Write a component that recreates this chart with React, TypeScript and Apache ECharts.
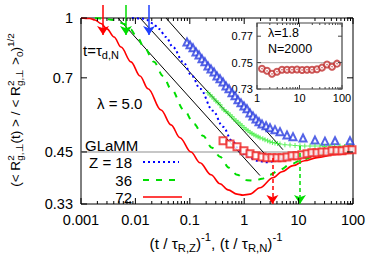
import React, { useEffect, useRef } from 'react';
import * as echarts from 'echarts';

const FONT = '"Liberation Sans", Arial, Helvetica, sans-serif';

// ---------- main panel ----------
const xRange = [0.001, 100];
const yRange = [0.33, 1];
const yTicks = [0.33, 0.45, 0.7, 1];
const glammLevel = 0.45;

const z72Curve: number[][] = [
  [0.001, 1.0], [0.00146, 0.997], [0.00181, 0.988], [0.00233, 0.968], [0.003, 0.937], [0.00405, 0.893],
  [0.00544, 0.841], [0.0083, 0.77], [0.01215, 0.708], [0.0171, 0.656], [0.0296, 0.578], [0.0451, 0.529],
  [0.066, 0.49], [0.105, 0.45], [0.154, 0.422], [0.2453, 0.393], [0.359, 0.3724], [0.504, 0.359],
  [0.738, 0.35], [0.95, 0.348], [1.278, 0.35], [1.95, 0.3637], [3.38, 0.386], [4.95, 0.4], [7.9, 0.4147],
  [12.9, 0.427], [21.8, 0.435], [44.9, 0.4426], [100, 0.4477],
];
const z36Curve: number[][] = [
  [0.00181, 1.0], [0.00265, 0.997], [0.00388, 0.988], [0.00479, 0.9794], [0.00617, 0.965], [0.00796, 0.937],
  [0.0107, 0.893], [0.01439, 0.841], [0.02197, 0.77], [0.0322, 0.708], [0.0451, 0.656], [0.0782, 0.578],
  [0.1195, 0.532], [0.1748, 0.4956], [0.2559, 0.4613], [0.359, 0.4375], [0.5256, 0.4097], [0.738, 0.393],
  [1.125, 0.3803], [1.579, 0.3792], [2.124, 0.3837], [2.98, 0.393], [4.55, 0.405], [6.95, 0.417],
  [10.6, 0.427], [17.6, 0.4361], [30.6, 0.4439], [57.7, 0.4493], [100, 0.4519],
];
const z18Curve: number[][] = [
  [0.00866, 1.0], [0.01322, 0.997], [0.01633, 0.988], [0.02106, 0.968], [0.02715, 0.937], [0.0365, 0.893],
  [0.0491, 0.841], [0.075, 0.77], [0.1098, 0.708], [0.154, 0.656], [0.267, 0.575], [0.4076, 0.523],
  [0.5966, 0.481], [0.838, 0.453], [1.125, 0.4385], [1.719, 0.427], [2.62, 0.4232], [4.55, 0.43],
  [10.6, 0.4372], [33.3, 0.4466], [100, 0.4504],
];
const powerLaw1: number[][] = [[0.00479, 1], [1.95, 0.391]];
const powerLaw2: number[][] = [[0.01216, 1], [3.24, 0.4246]];
const powerLaw3: number[][] = [[0.0365, 1], [5.17, 0.456]];

const z18Sim: number[][] = [
  [0.0888, 0.867], [0.1009, 0.852], [0.1146, 0.837], [0.13, 0.817], [0.1477, 0.802], [0.1676, 0.784],
  [0.19, 0.77], [0.216, 0.751], [0.245, 0.738], [0.279, 0.725], [0.316, 0.708], [0.359, 0.696],
  [0.408, 0.683], [0.463, 0.667], [0.526, 0.656], [0.597, 0.64], [0.678, 0.629], [0.769, 0.614],
  [0.873, 0.603], [0.991, 0.592], [1.125, 0.582], [1.278, 0.568], [1.451, 0.558], [1.648, 0.548],
  [1.871, 0.539], [2.124, 0.532], [2.52, 0.526], [2.98, 0.52], [3.68, 0.514], [4.55, 0.508],
  [6.12, 0.498], [7.89, 0.493], [12.05, 0.489], [20, 0.483], [30.5, 0.48], [46.7, 0.481], [88, 0.481],
];
const z36Sim: number[][] = [
  [0.216, 0.64], [0.236, 0.632], [0.256, 0.625], [0.279, 0.617], [0.303, 0.61], [0.33, 0.603],
  [0.359, 0.596], [0.39, 0.586], [0.426, 0.578], [0.463, 0.573], [0.504, 0.568], [0.55, 0.561],
  [0.597, 0.555], [0.65, 0.548], [0.706, 0.542], [0.77, 0.537], [0.838, 0.532], [0.91, 0.526],
  [0.991, 0.52], [1.08, 0.515], [1.175, 0.511], [1.28, 0.506], [1.39, 0.502], [1.51, 0.499],
  [1.648, 0.496], [1.8, 0.493], [1.95, 0.49], [2.2, 0.487], [2.41, 0.484], [2.7, 0.481],
  [2.98, 0.478], [3.3, 0.476], [3.68, 0.475], [4.1, 0.473], [4.55, 0.472], [5.6, 0.47],
  [6.95, 0.469], [8.6, 0.468], [10.6, 0.467], [13, 0.466], [16.2, 0.466], [20, 0.466],
  [24.7, 0.466], [30, 0.465], [37.8, 0.466], [46, 0.465], [57.7, 0.466], [70, 0.465], [88, 0.466],
];
const z72Sim: number[][] = [
  [0.408, 0.481], [0.548, 0.472], [0.738, 0.464], [0.991, 0.453], [1.278, 0.445], [1.648, 0.44],
  [2.124, 0.437], [2.62, 0.435], [3.24, 0.435], [4.01, 0.435], [4.95, 0.435], [6.12, 0.437],
  [7.57, 0.44], [9.35, 0.44], [11.5, 0.4426], [14.3, 0.445], [17.6, 0.448], [21.8, 0.448],
  [26.9, 0.45], [33.3, 0.45], [41.1, 0.453], [50.8, 0.453], [62.8, 0.453], [77.6, 0.456], [95.9, 0.456],
];

const tauDArrowX = [0.00254, 0.00671, 0.0178];
const tauDArrowY = [1.08, 0.904];
const tauRArrowRed: number[][] = [[3.3, 0.434], [3.3, 0.33]];
const tauRArrowGreen: number[][] = [[10.6, 0.466], [10.6, 0.33]];

// ---------- inset ----------
const insetXRange = [1, 100];
const insetYRange = [0.73, 0.78];
const insetYTicks = [0.73, 0.75, 0.77];
const insetLevel = 0.75;
const insetX = [1.31, 1.72, 2.25, 2.95, 3.87, 5.08, 6.66, 8.74, 11.5, 15.0, 19.7, 25.8, 33.8, 44.4, 58.2, 76.3];
const insetY = [0.7454, 0.7438, 0.7415, 0.7431, 0.7446, 0.7446, 0.7446, 0.7448, 0.7444, 0.7446, 0.7446, 0.745, 0.7462, 0.7485, 0.7469, 0.7492];

const RED = '#ff0000';
const GREEN = '#00dd00';
const BLUE = '#0000ff';

function fmtNum(v: number) {
  return String(parseFloat(Number(v).toPrecision(6)));
}

type Seg = { t?: string; k?: 'n' | 'sub' | 'sup' | 'stack'; sup?: string; sub?: string };

function makeMeasure() {
  const c = document.createElement('canvas').getContext('2d')!;
  return (t: string, s: number) => {
    c.font = `${s}px ${FONT}`;
    return c.measureText(t).width;
  };
}

function txt(t: string, x: number, y: number, s: number, align = 'left', fill = '#000') {
  return {
    type: 'text',
    x,
    y,
    style: {
      text: t,
      font: `${s}px ${FONT}`,
      fontSize: s,
      fontFamily: FONT,
      fill,
      textAlign: align,
      align,
      textVerticalAlign: 'middle',
      verticalAlign: 'middle',
    },
  };
}

function layoutMath(measure: (t: string, s: number) => number, segs: Seg[], size: number, small: number) {
  let cx = 0;
  const children: any[] = [];
  const supY = -size * 0.36;
  const subY = size * 0.32;
  for (const s of segs) {
    const k = s.k || 'n';
    if (k === 'stack') {
      children.push(txt(s.sup!, cx, supY, small));
      children.push(txt(s.sub!, cx, subY, small));
      cx += Math.max(measure(s.sup!, small), measure(s.sub!, small));
    } else if (k === 'sub') {
      children.push(txt(s.t!, cx, subY, small));
      cx += measure(s.t!, small);
    } else if (k === 'sup') {
      children.push(txt(s.t!, cx, supY, small));
      cx += measure(s.t!, small);
    } else {
      children.push(txt(s.t!, cx, 0, size));
      cx += measure(s.t!, size);
    }
  }
  return { children, width: cx };
}

function mathGroup(
  measure: (t: string, s: number) => number,
  segs: Seg[],
  size: number,
  small: number,
  x: number,
  y: number,
  rotation: number,
  center: boolean,
  targetWidth?: number
) {
  let res = layoutMath(measure, segs, size, small);
  if (targetWidth && res.width > 0) {
    const f = targetWidth / res.width;
    res = layoutMath(measure, segs, size * f, small * f);
  }
  const { children, width } = res;
  if (center) children.forEach((c) => (c.x -= width / 2));
  return { type: 'group', x, y, rotation, children };
}

function lineEl(x1: number, y1: number, x2: number, y2: number, stroke = '#000', lineWidth = 1, lineDash?: number[]) {
  return {
    type: 'line',
    shape: { x1, y1, x2, y2 },
    style: { stroke, lineWidth, lineDash: lineDash || null },
    z: 10,
  };
}

function arrowSeries(coords: number[][], color: string, dashed: boolean) {
  return {
    type: 'lines',
    coordinateSystem: 'cartesian2d',
    xAxisIndex: 0,
    yAxisIndex: 0,
    clip: false,
    silent: true,
    z: 6,
    symbol: ['none', 'arrow'],
    symbolSize: [2, 9],
    effect: { show: false },
    lineStyle: { color, width: 1.5, opacity: 1, curveness: 0, type: dashed ? [4, 3] : 'solid' },
    data: [{ coords }],
  };
}

function curve(data: number[][], color: string, width: number, type: any) {
  return {
    type: 'line', xAxisIndex: 0, yAxisIndex: 0, symbol: 'none', z: 3, smooth: 0.35, smoothMonotone: 'x',
    lineStyle: { color, width, type },
    data,
  };
}

function buildOption() {
  const hiddenAxisBits = {
    axisLine: { show: false },
    axisTick: { show: false },
    splitLine: { show: false },
  };
  return {
    animation: false,
    backgroundColor: '#fff',
    grid: [
      { left: 81, right: 27, top: 18, bottom: 62, show: true, borderColor: '#000', borderWidth: 1, backgroundColor: 'transparent' },
      { left: 257, top: 23, width: 85, height: 66, show: true, borderColor: '#444', borderWidth: 1.2, backgroundColor: '#fff' },
    ],
    xAxis: [
      {
        type: 'log', gridIndex: 0, logBase: 10, min: xRange[0], max: xRange[1],
        ...hiddenAxisBits,
        axisLabel: { fontSize: 14.5, fontFamily: FONT, color: '#000', margin: 8, formatter: fmtNum },
      },
      {
        type: 'log', gridIndex: 1, logBase: 10, min: insetXRange[0], max: insetXRange[1],
        ...hiddenAxisBits,
        axisLabel: { fontSize: 11, fontFamily: FONT, color: '#000', margin: 3, formatter: fmtNum },
      },
    ],
    yAxis: [
      {
        type: 'log', gridIndex: 0, logBase: 10, min: yRange[0], max: yRange[1],
        ...hiddenAxisBits,
        axisLabel: { show: false },
      },
      {
        type: 'value', gridIndex: 1, min: insetYRange[0], max: insetYRange[1], interval: 0.02,
        ...hiddenAxisBits,
        axisLabel: {
          fontSize: 11, fontFamily: FONT, color: '#000', margin: 4,
          formatter: (v: number) => (insetYTicks.some((t) => Math.abs(t - v) < 1e-6) ? v.toFixed(2) : ''),
        },
      },
    ],
    series: [
      {
        type: 'line', xAxisIndex: 0, yAxisIndex: 0, symbol: 'none', z: 1,
        lineStyle: { color: '#b4b4b4', width: 1.5 },
        data: [[xRange[0], glammLevel], [xRange[1], glammLevel]],
      },
      ...[powerLaw1, powerLaw2, powerLaw3].map((d) => ({
        type: 'line', xAxisIndex: 0, yAxisIndex: 0, symbol: 'none', z: 2,
        lineStyle: { color: '#000', width: 1 },
        data: d,
      })),
      curve(z18Curve, BLUE, 2, [2, 3]),
      curve(z36Curve, GREEN, 2, [6, 7]),
      curve(z72Curve, RED, 1.6, 'solid'),
      {
        type: 'scatter', xAxisIndex: 0, yAxisIndex: 0, z: 4,
        symbol: 'emptyTriangle', symbolSize: 7,
        itemStyle: { color: '#2a3de0', borderWidth: 1 },
        data: z18Sim,
      },
      {
        type: 'scatter', xAxisIndex: 0, yAxisIndex: 0, z: 4,
        symbol: 'path://M2,0H3V2H5V3H3V5H2V3H0V2H2Z', symbolSize: 5,
        itemStyle: { color: '#33ee33' },
        data: z36Sim,
      },
      {
        type: 'scatter', xAxisIndex: 0, yAxisIndex: 0, z: 4,
        symbol: 'emptyRect', symbolSize: 7,
        itemStyle: { color: '#ee2222', borderWidth: 1 },
        data: z72Sim,
      },
      arrowSeries([[tauDArrowX[0], tauDArrowY[0]], [tauDArrowX[0], tauDArrowY[1]]], RED, false),
      arrowSeries([[tauDArrowX[1], tauDArrowY[0]], [tauDArrowX[1], tauDArrowY[1]]], GREEN, false),
      arrowSeries([[tauDArrowX[2], tauDArrowY[0]], [tauDArrowX[2], tauDArrowY[1]]], '#2040ff', false),
      arrowSeries(tauRArrowRed, RED, true),
      arrowSeries(tauRArrowGreen, GREEN, true),
      {
        type: 'line', xAxisIndex: 1, yAxisIndex: 1, symbol: 'none', z: 3,
        lineStyle: { color: '#bdbdbd', width: 1.3 },
        data: [[insetXRange[0], insetLevel], [insetXRange[1], insetLevel]],
      },
      {
        type: 'scatter', xAxisIndex: 1, yAxisIndex: 1, z: 4,
        symbol: 'emptyCircle', symbolSize: 6,
        itemStyle: { color: '#c03030', borderWidth: 1 },
        data: insetX.map((x, i) => [x, insetY[i]]),
      },
      {
        type: 'scatter', xAxisIndex: 1, yAxisIndex: 1, z: 5,
        symbol: 'circle', symbolSize: 1.5,
        itemStyle: { color: '#c03030' },
        data: insetX.map((x, i) => [x, insetY[i]]),
      },
    ],
  };
}

function buildGraphic(chart: echarts.ECharts) {
  const measure = makeMeasure();
  const P = (x: number, y: number) => chart.convertToPixel({ gridIndex: 0 }, [x, y]) as number[];
  const Q = (x: number, y: number) => chart.convertToPixel({ gridIndex: 1 }, [x, y]) as number[];
  const els: any[] = [];

  const [L, B] = P(xRange[0], yRange[0]);
  const [R, T] = P(xRange[1], yRange[1]);

  for (const v of yTicks) {
    const py = P(1, v)[1];
    els.push(lineEl(L, py, L + 6, py));
    els.push(lineEl(R - 6, py, R, py));
    els.push(txt(fmtNum(v), L - 8, py, 14.5, 'right'));
  }
  for (let k = -3; k <= 2; k++) {
    for (let m = 1; m <= 9; m++) {
      const v = m * Math.pow(10, k);
      if (v > xRange[1] * 1.0001) break;
      const px = P(v, 1)[0];
      const len = m === 1 ? 6 : 3;
      els.push(lineEl(px, B, px, B - len));
      els.push(lineEl(px, T, px, T + len));
    }
  }

  const [iL, iB] = Q(insetXRange[0], insetYRange[0]);
  const [iR, iT] = Q(insetXRange[1], insetYRange[1]);
  for (let k = 0; k <= 2; k++) {
    for (let m = 1; m <= 9; m++) {
      const v = m * Math.pow(10, k);
      if (v > insetXRange[1] * 1.0001) break;
      const px = Q(v, 0.75)[0];
      const len = m === 1 ? 4 : 2;
      els.push(lineEl(px, iB, px, iB - len, '#444'));
      els.push(lineEl(px, iT, px, iT + len, '#444'));
    }
  }
  for (const v of insetYTicks) {
    const py = Q(10, v)[1];
    els.push(lineEl(iL, py, iL + 4, py, '#444'));
    els.push(lineEl(iR - 4, py, iR, py, '#444'));
  }

  els.push(mathGroup(measure, [{ t: 't=τ' }, { t: 'd,N', k: 'sub' }], 15, 11, 83, 50, 0, false));
  els.push(txt('λ = 5.0', 97, 103, 15));
  els.push(txt('GLaMM', 85, 145, 15));
  els.push(txt('λ=1.8', 268, 33, 12.5));
  els.push(txt('N=2000', 268, 49, 12.5));

  els.push(txt('Z = 18', 132, 162, 15, 'right'));
  els.push(txt('36', 132, 180, 15, 'right'));
  els.push(txt('72', 132, 197, 15, 'right'));
  els.push(lineEl(143, 162, 179, 162, BLUE, 2, [2, 3]));
  els.push(lineEl(143, 180, 176, 180, GREEN, 2, [6, 7]));
  els.push(lineEl(143, 197, 182, 197, RED, 1.6));

  els.push(
    mathGroup(
      measure,
      [
        { t: '(t / τ' }, { t: 'R,Z', k: 'sub' }, { t: ')' }, { t: '-1', k: 'sup' },
        { t: ', (t / τ' }, { t: 'R,N', k: 'sub' }, { t: ')' }, { t: '-1', k: 'sup' },
      ],
      15, 11, 216, 243, 0, true, 133
    )
  );
  els.push(
    mathGroup(
      measure,
      [
        { t: '(< R' }, { k: 'stack', sup: '2', sub: 'g,⊥' }, { t: '(t) > / < R' },
        { k: 'stack', sup: '2', sub: 'g,⊥' }, { t: ' >' }, { t: '0', k: 'sub' }, { t: ')' },
        { t: '1/2', k: 'sup' },
      ],
      15, 11, 15, 110, Math.PI / 2, true, 154
    )
  );
  return els;
}

export default function App() {
  const ref = useRef<HTMLDivElement>(null);
  useEffect(() => {
    document.body.style.margin = '0';
    const chart = echarts.init(ref.current!, null, { renderer: 'svg' });
    chart.setOption(buildOption() as any);
    chart.setOption({ graphic: buildGraphic(chart) } as any);
    return () => chart.dispose();
  }, []);
  return <div ref={ref} style={{ width: 380, height: 266 }} />;
}
